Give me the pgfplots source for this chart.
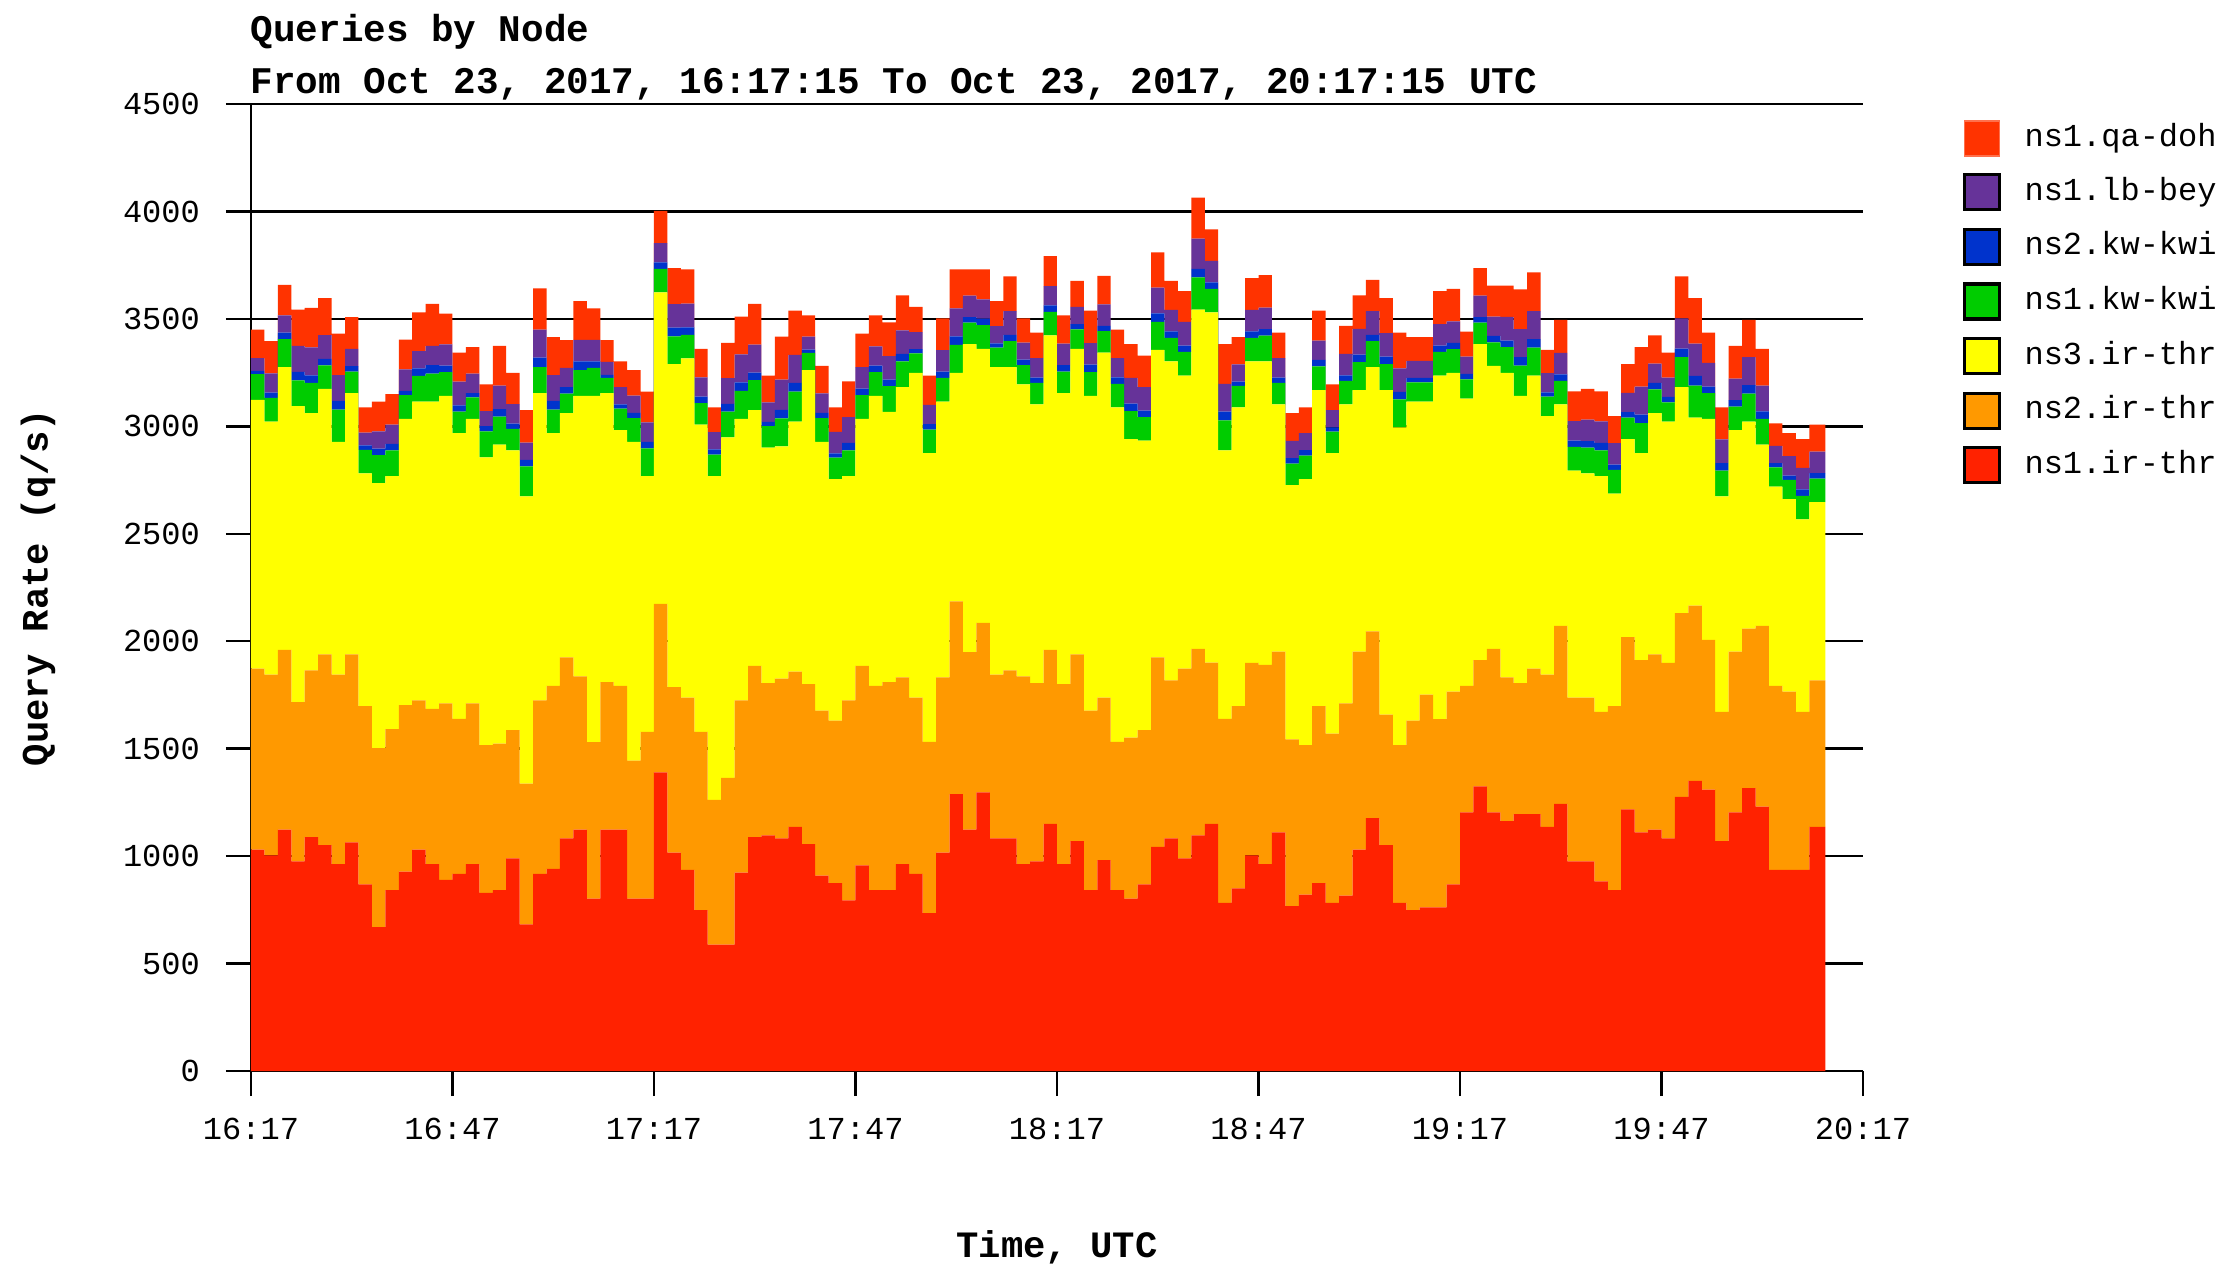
\documentclass[border=0pt]{standalone}
\usepackage{pgfplots}
\usepackage{pgfplotstable}
\pgfplotsset{compat=1.18}
\usepackage{fontspec}
\setmainfont{Liberation Mono}
\definecolor{irone}{HTML}{FF2200}
\definecolor{irtwo}{HTML}{FF9900}
\definecolor{irthree}{HTML}{FFFF00}
\definecolor{kwone}{HTML}{00CC00}
\definecolor{kwtwo}{HTML}{0033CC}
\definecolor{lbbey}{HTML}{663399}
\definecolor{qadoh}{HTML}{FF3300}
\pgfplotstableread{
m ira irb irc kwa kwb lb qa
0 1030 842 1251 120 15 60 132
2 1003 842 1177 110 25 90 149
4 1123 837 1316 130 30 80 142
6 976 741 1377 120 40 120 169
8 1088 776 1198 140 35 130 184
10 1051 888 1235 110 30 110 173
12 963 882 1083 150 40 120 193
14 1064 875 1216 100 25 80 148
16 869 829 1083 110 20 60 117
18 669 834 1233 130 30 80 139
20 842 749 1177 120 30 90 142
22 928 775 1332 110 20 100 139
24 1030 695 1390 120 35 80 180
26 963 722 1430 130 40 90 195
28 890 821 1431 110 30 100 142
30 917 722 1329 100 30 110 135
32 963 748 1324 100 20 90 124
34 829 687 1340 120 25 70 124
36 842 682 1391 130 35 110 185
38 989 597 1302 100 25 90 146
40 682 655 1337 140 30 80 151
42 917 808 1430 120 45 130 192
44 941 851 1176 110 40 120 177
46 1083 842 1137 90 30 90 129
48 1123 714 1305 120 40 100 181
50 802 728 1612 130 30 100 147
52 1123 687 1345 70 15 60 101
54 1123 669 1190 100 20 80 120
56 802 642 1484 110 25 80 119
58 802 776 1190 130 30 90 143
60 1390 784 1449 110 30 90 150
62 1016 770 1503 130 40 110 167
64 936 802 1578 110 35 110 159
66 749 829 1430 100 30 90 133
68 588 674 1506 100 25 80 115
70 588 776 1585 120 35 120 164
72 923 802 1310 130 40 130 176
74 1088 797 1190 140 35 130 190
76 1096 709 1096 100 20 90 125
78 1083 743 1081 130 40 140 200
80 1136 722 1164 140 40 130 206
82 1056 744 1462 80 15 60 99
84 909 768 1251 110 25 90 128
86 874 757 1123 100 20 100 114
88 794 931 1043 120 35 120 166
90 957 928 1150 110 30 100 156
92 842 950 1350 110 30 90 144
94 842 968 1257 120 30 110 157
96 963 869 1350 120 35 110 163
98 917 821 1511 90 20 80 117
100 735 797 1343 110 25 90 136
102 1016 816 1283 110 30 100 148
104 1289 896 1064 130 40 130 181
106 1123 826 1434 100 25 100 122
108 1297 789 1275 110 30 90 139
110 1083 762 1431 90 20 80 117
112 1083 781 1412 120 30 110 162
114 963 874 1358 90 25 80 113
116 976 829 1297 100 25 90 119
118 1150 810 1463 110 30 90 139
120 963 837 1355 100 30 100 131
122 1070 869 1422 90 25 80 121
124 842 835 1465 110 35 100 151
126 981 757 1605 100 25 100 132
128 842 690 1556 110 30 90 132
130 802 749 1390 130 35 120 157
132 869 717 1347 110 30 110 146
134 1043 882 1431 130 40 120 164
136 1083 735 1484 110 30 100 135
138 989 883 1364 110 30 110 143
140 1096 869 1578 150 40 140 191
142 1150 750 1630 110 30 100 147
144 783 856 1249 140 40 130 185
146 850 848 1390 100 20 80 127
148 1003 896 1403 110 30 100 148
150 963 927 1412 120 30 100 152
152 1110 842 1150 100 25 90 119
154 767 776 1184 100 25 80 130
156 821 695 1238 110 25 80 119
158 874 824 1471 110 30 90 139
160 783 787 1305 100 20 80 120
162 816 895 1391 110 25 100 131
164 1030 922 1217 130 35 120 156
166 1177 869 1230 120 30 110 146
168 1051 607 1511 120 35 110 163
170 783 733 1479 130 35 110 166
172 749 882 1484 90 20 80 110
174 762 989 1364 90 20 80 110
176 762 875 1599 110 30 100 153
178 869 896 1484 110 30 100 151
180 1203 589 1337 90 25 80 117
182 1324 588 1471 100 25 100 128
184 1203 762 1316 110 30 90 144
186 1163 669 1417 120 30 110 146
188 1195 610 1337 140 40 130 185
190 1195 677 1364 130 40 130 181
192 1136 709 1203 90 20 90 108
194 1243 829 1030 110 30 100 153
196 976 762 1056 110 30 90 139
198 976 762 1043 120 30 100 143
200 882 789 1097 120 35 100 140
202 842 856 989 110 25 100 126
204 1217 802 922 100 25 90 134
206 1110 802 963 140 40 130 184
208 1123 816 1123 110 30 90 131
210 1083 816 1123 90 25 90 116
212 1276 855 1051 140 40 140 196
214 1350 816 874 150 45 150 212
216 1310 696 1029 120 30 110 141
218 1070 601 1003 120 35 110 149
220 1203 749 1030 110 30 100 153
222 1316 743 963 130 40 130 173
224 1230 842 843 120 35 120 171
226 936 856 927 90 20 80 105
228 936 829 896 90 20 90 107
230 936 735 896 110 30 100 134
232 1136 682 829 110 25 100 126
234.4 1136 682 829 110 25 100 126
}\datatable
\begin{document}
\begin{tikzpicture}
\path[use as bounding box] (-62.75pt,-48.5pt) rectangle (496.5pt,267.75pt);
\begin{axis}[
  at={(0pt,0pt)}, anchor=south west,
  scale only axis, width=403pt, height=241.75pt,
  xmin=0, xmax=240, ymin=0, ymax=4500,
  enlargelimits=false,
  stack plots=y, const plot,
  axis lines=left, axis line style={-, line width=0.6pt},
  xtick={0,30,...,240},
  xticklabels={16:17,16:47,17:17,17:47,18:17,18:47,19:17,19:47,20:17},
  ytick={0,500,...,4500},
  tick align=outside, major tick length=6.25pt,
  tick style={black, line width=0.6pt},
  ymajorgrids, major grid style={black, line width=0.6pt},
  /pgf/number format/assume math mode=true,
  /pgf/number format/1000 sep={},
  tick label style={font=\fontsize{8}{9.6}\selectfont},
  xticklabel style={yshift=-2pt},
  yticklabel style={xshift=-3pt},
  xlabel={Time, UTC}, ylabel={Query Rate (q/s)},
  label style={font=\bfseries\fontsize{9.3}{11}\selectfont},
  x label style={at={(axis description cs:0.5,-0.182)}, anchor=center},
  y label style={at={(axis description cs:-0.1321,0.5)}, anchor=center},
  reverse legend,
  legend image code/.code={\draw[#1] (0pt,-4.375pt) rectangle (8.75pt,4.375pt);},
  legend style={draw=none, fill=none, at={(1.0614,0.984)}, anchor=north west,
    inner sep=0pt, row sep=4.1pt,
    nodes={inner sep=0pt, text height=6pt, text depth=2pt, font=\fontsize{8}{9.6}\selectfont},
    /tikz/every odd column/.append style={column sep=5.9pt}},
  legend cell align=left,
]
\addplot[fill=irone, draw=none, legend image post style={draw=black, line width=0.8pt}] table[x=m, y=ira] {\datatable} \closedcycle;
\addlegendentry{ns1.ir-thr}
\addplot[fill=irtwo, draw=none, legend image post style={draw=black, line width=0.8pt}] table[x=m, y=irb] {\datatable} \closedcycle;
\addlegendentry{ns2.ir-thr}
\addplot[fill=irthree, draw=none, legend image post style={draw=black, line width=0.8pt}] table[x=m, y=irc] {\datatable} \closedcycle;
\addlegendentry{ns3.ir-thr}
\addplot[fill=kwone, draw=none, legend image post style={draw=black, line width=0.8pt}] table[x=m, y=kwa] {\datatable} \closedcycle;
\addlegendentry{ns1.kw-kwi}
\addplot[fill=kwtwo, draw=none, legend image post style={draw=black, line width=0.8pt}] table[x=m, y=kwb] {\datatable} \closedcycle;
\addlegendentry{ns2.kw-kwi}
\addplot[fill=lbbey, draw=none, legend image post style={draw=black, line width=0.8pt}] table[x=m, y=lb] {\datatable} \closedcycle;
\addlegendentry{ns1.lb-bey}
\addplot[fill=qadoh, draw=none, legend image post style={draw=qadoh!70, line width=0.4pt}] table[x=m, y=qa] {\datatable} \closedcycle;
\addlegendentry{ns1.qa-doh}
\end{axis}
\node[anchor=base west, inner sep=0pt, font=\bfseries\fontsize{9.4}{11}\selectfont] at (-0.25pt,257.25pt) {Queries by Node};
\node[anchor=base west, inner sep=0pt, font=\bfseries\fontsize{9.4}{11}\selectfont] at (-0.25pt,244.25pt) {From Oct 23, 2017, 16:17:15 To Oct 23, 2017, 20:17:15 UTC};
\end{tikzpicture}
\end{document}
